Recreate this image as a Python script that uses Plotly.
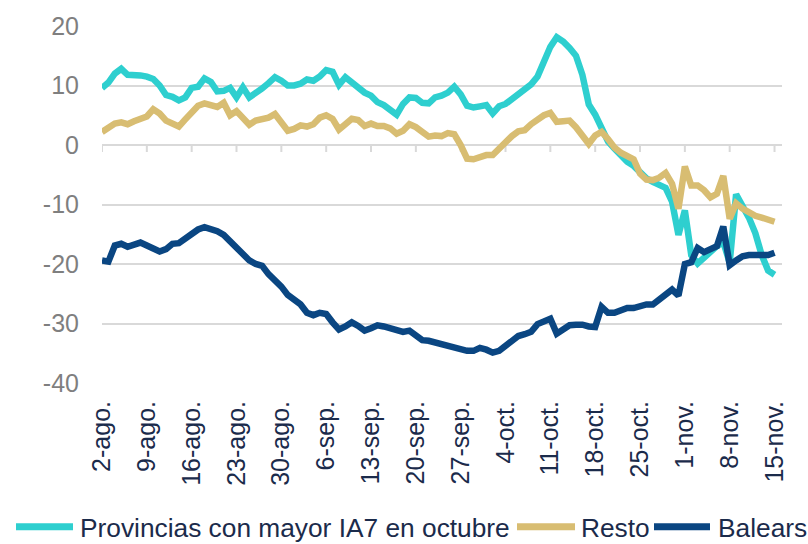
import plotly.graph_objects as go
import pandas as pd

# ---------------- data ----------------
start_date = "2020-08-02"
n_days = 106  # 2-ago .. 15-nov (daily)

provincias = [
    9.6, 10.5, 12.0, 12.8, 11.8, 11.8, 11.7, 11.5, 11.1, 10.0,
    8.4, 8.1, 7.5, 8.0, 9.6, 9.8, 11.2, 10.6, 9.0, 9.1,
    9.6, 8.0, 9.7, 8.0, 8.6, 9.5, 10.4, 11.4, 10.8, 10.0,
    10.0, 10.3, 11.0, 10.8, 11.5, 12.6, 12.3, 10.1, 11.4, 10.6,
    9.5, 8.8, 8.3, 7.2, 6.7, 5.8, 5.1, 6.9, 8.0, 7.9,
    7.1, 7.0, 8.0, 8.3, 8.8, 9.8, 8.5, 6.6, 6.3, 6.5,
    6.7, 5.3, 6.5, 6.9, 7.7, 8.7, 9.2, 10.2, 11.5, 14.0,
    16.5, 18.1, 17.4, 16.3, 15.0, 11.8, 6.8, 5.1, 2.5, 0.6,
    -0.6, -1.8, -2.8, -3.5, -4.5, -5.6, -6.2, -6.7, -7.2, -9.5,
    -15.1, -11.0, -18.5, -19.9, -18.9, -18.0, -17.0, -16.3, -19.8, -8.3,
    -10.0, -12.2, -14.8, -18.5, -21.1, -21.8,
]

resto = [
    2.2, 2.9, 3.6, 3.8, 3.5, 4.0, 4.4, 4.8, 6.0, 5.3,
    4.1, 3.6, 3.1, 4.3, 5.5, 6.6, 7.0, 6.6, 6.4, 7.1,
    5.0, 5.7, 4.6, 3.4, 4.1, 4.4, 4.6, 5.2, 3.8, 2.4,
    2.7, 3.3, 3.1, 3.5, 4.6, 5.0, 4.4, 2.6, 3.5, 4.4,
    4.2, 3.2, 3.6, 3.2, 3.2, 2.8, 1.9, 2.4, 3.5, 3.0,
    2.2, 1.4, 1.6, 1.5, 2.0, 1.8, 0.0, -2.3, -2.4, -2.1,
    -1.7, -1.7, -0.5, 0.6, 1.5, 2.3, 2.5, 3.5, 4.4, 5.0,
    5.4, 3.9, 4.0, 4.1, 3.0, 1.7, 0.2, 1.6, 2.2, 1.0,
    -0.4, -1.3, -1.9, -2.4, -4.8, -5.8, -5.9, -5.5, -4.7, -6.5,
    -10.7, -3.6, -6.8, -6.8, -7.6, -8.8, -8.2, -5.2, -12.4, -9.8,
    -10.7, -11.4, -11.9, -12.2, -12.5, -12.9,
]

balears = [
    -19.4, -19.6, -16.9, -16.6, -17.1, -16.8, -16.4, -16.9, -17.4, -17.9,
    -17.5, -16.6, -16.5, -15.7, -15.0, -14.2, -13.8, -14.1, -14.5, -15.1,
    -16.2, -17.4, -18.5, -19.4, -20.0, -20.3, -21.7, -22.6, -23.8, -25.2,
    -25.9, -26.8, -28.2, -28.6, -28.2, -28.4, -29.8, -31.0, -30.5, -29.8,
    -30.4, -31.2, -30.8, -30.3, -30.5, -30.8, -31.3, -31.4, -31.2, -32.1,
    -32.8, -32.9, -33.2, -33.5, -33.6, -33.9, -34.2, -34.6, -34.6, -34.1,
    -34.4, -34.9, -34.6, -33.8, -32.7, -32.1, -31.8, -31.4, -30.1, -29.7,
    -29.2, -31.7, -31.1, -30.3, -30.2, -30.2, -30.5, -30.6, -27.2, -28.2,
    -28.2, -27.7, -27.4, -27.4, -27.0, -26.8, -26.8, -26.0, -25.2, -24.3,
    -25.3, -20.0, -19.7, -17.3, -18.0, -17.6, -17.0, -13.7, -20.2, -19.4,
    -18.7, -18.5, -18.5, -18.5, -18.5, -18.1,
]

tick_dates = [
    "2020-08-02", "2020-08-09", "2020-08-16", "2020-08-23", "2020-08-30",
    "2020-09-06", "2020-09-13", "2020-09-20", "2020-09-27", "2020-10-04",
    "2020-10-11", "2020-10-18", "2020-10-25", "2020-11-01", "2020-11-08",
    "2020-11-15",
]
tick_labels = [
    "2-ago.", "9-ago.", "16-ago.", "23-ago.", "30-ago.", "6-sep.", "13-sep.",
    "20-sep.", "27-sep.", "4-oct.", "11-oct.", "18-oct.", "25-oct.", "1-nov.",
    "8-nov.", "15-nov.",
]

y_tick_values = [-40, -30, -20, -10, 0, 10, 20]
y_tick_labels = ["-40", "-30", "-20", "-10", "0", "10", "20"]

series_names = ["Provincias con mayor IA7 en octubre", "Resto", "Balears"]
series_colors = ["#2ECFCF", "#D8BD72", "#0A4682"]

dates = pd.date_range(start_date, periods=n_days, freq="D")

# ---------------- geometry (pixels) ----------------
W, H = 808, 544
ML, MR, MT, MB = 102, 26, 18, 161
PW, PH = W - ML - MR, H - MT - MB


def px_x(px):
    return (px - ML) / PW


def px_y(py):
    return (H - MB - py) / PH


FONT = "Liberation Sans, Arial, sans-serif"
TEXT_DARK = "#1B2B4B"

# ---------------- figure ----------------
fig = go.Figure()
for name, vals, col in zip(series_names, [provincias, resto, balears], series_colors):
    fig.add_trace(go.Scatter(
        x=dates, y=vals, mode="lines", name=name,
        line=dict(color=col, width=6.5, shape="linear"),
        hoverinfo="skip", showlegend=False,
    ))

# small tick marks on the category axis crossing at 0
for td in tick_dates:
    fig.add_shape(type="line", xref="x", yref="y", x0=td, x1=td,
                  ysizemode="pixel", yanchor=0, y0=0, y1=-7,
                  line=dict(color="#D9D9D9", width=2), layer="below")

# legend drawn manually (sample line + label) in one row
legend_pos = [(16, 73, 78), (517, 575, 579), (654, 710, 716)]
legend_y = 530
for (sx0, sx1, tx), name, col in zip(legend_pos, series_names, series_colors):
    fig.add_shape(type="line", xref="paper", yref="paper",
                  x0=px_x(sx0), x1=px_x(sx1), y0=px_y(legend_y), y1=px_y(legend_y),
                  line=dict(color=col, width=7))
    fig.add_annotation(xref="paper", yref="paper", x=px_x(tx), y=px_y(legend_y + 1),
                       text=name, showarrow=False, xanchor="left", yanchor="middle",
                       font=dict(size=26.3, color=TEXT_DARK, family=FONT))

fig.update_layout(
    width=W, height=H,
    margin=dict(l=ML, r=MR, t=MT, b=MB),
    paper_bgcolor="white", plot_bgcolor="white",
    font=dict(family=FONT),
    showlegend=False,
    xaxis=dict(
        type="date",
        range=["2020-08-02", "2020-11-16 04:00"],
        tickmode="array", tickvals=tick_dates, ticktext=tick_labels,
        tickangle=-90, ticks="", showgrid=False, zeroline=False,
        showline=False,
        tickfont=dict(size=25, color=TEXT_DARK, family=FONT),
        ticklabelstandoff=12,
    ),
    yaxis=dict(
        range=[-40, 20],
        tickmode="array", tickvals=y_tick_values, ticktext=y_tick_labels,
        showgrid=True, gridcolor="#D9D9D9", gridwidth=2,
        zeroline=False, showline=False, ticks="",
        tickfont=dict(size=25, color="#7F7F7F", family=FONT),
        ticklabelstandoff=22,
    ),
)

fig.write_html(
    "out.html",
    config={"displayModeBar": False},
    post_script="document.body.style.margin='0';document.body.style.overflow='hidden';",
)
